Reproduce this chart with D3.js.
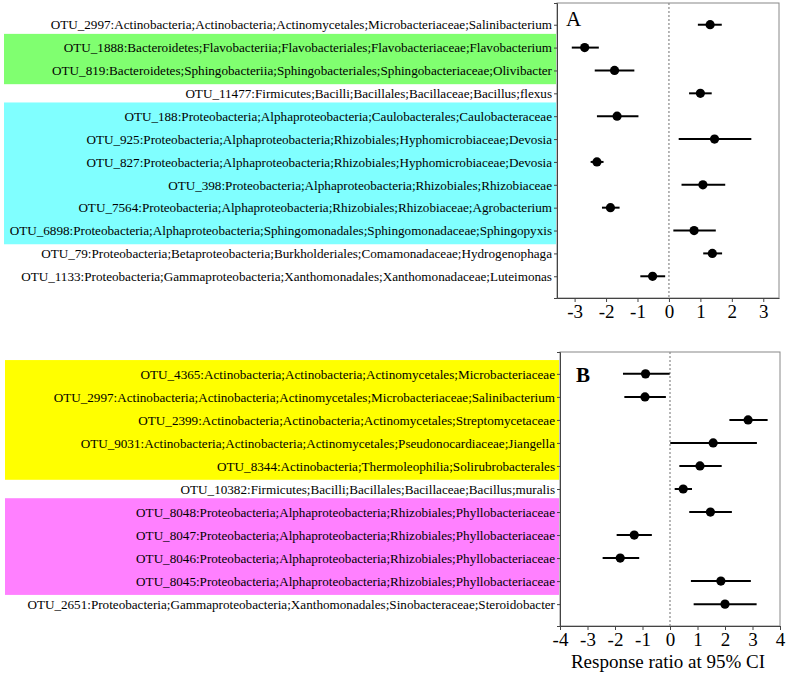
<!DOCTYPE html>
<html>
<head>
<meta charset="utf-8">
<script src="https://cdn.jsdelivr.net/npm/d3@7"></script>
<style>
  body { margin: 0; background: #fff; }
</style>
</head>
<body>
<div id="chart"></div>
<script>
// panel A data
const labelsA = [
  "OTU_2997:Actinobacteria;Actinobacteria;Actinomycetales;Microbacteriaceae;Salinibacterium",
  "OTU_1888:Bacteroidetes;Flavobacteriia;Flavobacteriales;Flavobacteriaceae;Flavobacterium",
  "OTU_819:Bacteroidetes;Sphingobacteriia;Sphingobacteriales;Sphingobacteriaceae;Olivibacter",
  "OTU_11477:Firmicutes;Bacilli;Bacillales;Bacillaceae;Bacillus;flexus",
  "OTU_188:Proteobacteria;Alphaproteobacteria;Caulobacterales;Caulobacteraceae",
  "OTU_925:Proteobacteria;Alphaproteobacteria;Rhizobiales;Hyphomicrobiaceae;Devosia",
  "OTU_827:Proteobacteria;Alphaproteobacteria;Rhizobiales;Hyphomicrobiaceae;Devosia",
  "OTU_398:Proteobacteria;Alphaproteobacteria;Rhizobiales;Rhizobiaceae",
  "OTU_7564:Proteobacteria;Alphaproteobacteria;Rhizobiales;Rhizobiaceae;Agrobacterium",
  "OTU_6898:Proteobacteria;Alphaproteobacteria;Sphingomonadales;Sphingomonadaceae;Sphingopyxis",
  "OTU_79:Proteobacteria;Betaproteobacteria;Burkholderiales;Comamonadaceae;Hydrogenophaga",
  "OTU_1133:Proteobacteria;Gammaproteobacteria;Xanthomonadales;Xanthomonadaceae;Luteimonas"
];
const meanA = [1.31, -2.68, -1.73, 1.00, -1.65, 1.45, -2.29, 1.08, -1.86, 0.80, 1.38, -0.52];
const lowA  = [0.92, -3.09, -2.36, 0.64, -2.29, 0.31, -2.49, 0.40, -2.13, 0.14, 1.09, -0.91];
const highA = [1.68, -2.23, -1.10, 1.36, -0.97, 2.62, -2.08, 1.79, -1.57, 1.49, 1.69, -0.12];
const ticksA = [-3, -2, -1, 0, 1, 2, 3];
const groupsA = [
  { from: 1, to: 2, color: "#80ff70" },
  { from: 4, to: 9, color: "#80ffff" }
];

// panel B data
const labelsB = [
  "OTU_4365:Actinobacteria;Actinobacteria;Actinomycetales;Microbacteriaceae",
  "OTU_2997:Actinobacteria;Actinobacteria;Actinomycetales;Microbacteriaceae;Salinibacterium",
  "OTU_2399:Actinobacteria;Actinobacteria;Actinomycetales;Streptomycetaceae",
  "OTU_9031:Actinobacteria;Actinobacteria;Actinomycetales;Pseudonocardiaceae;Jiangella",
  "OTU_8344:Actinobacteria;Thermoleophilia;Solirubrobacterales",
  "OTU_10382:Firmicutes;Bacilli;Bacillales;Bacillaceae;Bacillus;muralis",
  "OTU_8048:Proteobacteria;Alphaproteobacteria;Rhizobiales;Phyllobacteriaceae",
  "OTU_8047:Proteobacteria;Alphaproteobacteria;Rhizobiales;Phyllobacteriaceae",
  "OTU_8046:Proteobacteria;Alphaproteobacteria;Rhizobiales;Phyllobacteriaceae",
  "OTU_8045:Proteobacteria;Alphaproteobacteria;Rhizobiales;Phyllobacteriaceae",
  "OTU_2651:Proteobacteria;Gammaproteobacteria;Xanthomonadales;Sinobacteraceae;Steroidobacter"
];
const meanB = [-0.89, -0.91, 2.84, 1.57, 1.09, 0.48, 1.47, -1.30, -1.81, 1.85, 2.00];
const lowB  = [-1.71, -1.66, 2.16, 0.01, 0.34, 0.17, 0.70, -1.94, -2.45, 0.76, 0.86];
const highB = [-0.01, -0.15, 3.55, 3.16, 1.88, 0.80, 2.25, -0.66, -1.12, 2.94, 3.15];
const ticksB = [-4, -3, -2, -1, 0, 1, 2, 3, 4];
const groupsB = [
  { from: 0, to: 4, color: "#ffff00" },
  { from: 6, to: 9, color: "#ff80ff" }
];

const FONT = "'Liberation Serif', 'Times New Roman', 'DejaVu Serif', serif";
const width = 787, height = 676;
const svg = d3.select("#chart").append("svg")
  .attr("width", width)
  .attr("height", height)
  .style("font-family", FONT);

function drawPanel(p) {
  const n = p.labels.length;
  const rows = d3.range(n);
  const x = d3.scaleLinear().domain(p.xDomain).range([p.left, p.right]);
  const y = d3.scalePoint().domain(rows).range([p.top, p.bottom]).padding(0.95);
  const step = y.step();
  const g = svg.append("g");

  // highlight boxes behind labels
  g.selectAll("rect.hl")
    .data(p.groups)
    .enter().append("rect")
    .attr("class", "hl")
    .attr("x", p.hlLeft)
    .attr("y", d => y(d.from) - step * 0.6)
    .attr("width", p.left - 1 - p.hlLeft)
    .attr("height", d => y(d.to) - y(d.from) + step * 1.2)
    .attr("fill", d => d.color);

  // frame
  g.append("rect")
    .attr("x", p.left)
    .attr("y", p.top)
    .attr("width", p.right - p.left)
    .attr("height", p.bottom - p.top)
    .attr("fill", "none")
    .attr("stroke", "#888")
    .attr("stroke-width", 1);

  // zero reference
  g.append("line")
    .attr("x1", x(0)).attr("x2", x(0))
    .attr("y1", p.top).attr("y2", p.bottom)
    .attr("stroke", "#888")
    .attr("stroke-width", 1.2)
    .attr("stroke-dasharray", "2,2");

  // axes
  const axisY = d3.axisLeft(y)
    .tickSize(3)
    .tickPadding(2)
    .tickFormat(i => p.labels[i]);
  const ay = g.append("g")
    .attr("transform", `translate(${p.left},0)`)
    .call(axisY);
  ay.attr("font-family", null);
  ay.select(".domain").attr("stroke", "#444");
  ay.selectAll(".tick line").attr("stroke", "#444");
  ay.selectAll(".tick text")
    .style("font-family", FONT)
    .style("font-size", "13.15px")
    .attr("fill", "#000");

  const axisX = d3.axisBottom(x)
    .tickValues(p.ticks)
    .tickSize(4)
    .tickPadding(3)
    .tickFormat(d3.format("d"))
    .tickSizeOuter(0);
  const ax = g.append("g")
    .attr("transform", `translate(0,${p.bottom})`)
    .call(axisX);
  ax.attr("font-family", null);
  ax.select(".domain").attr("stroke", "#444");
  ax.selectAll(".tick line").attr("stroke", "#444");
  ax.selectAll(".tick text")
    .style("font-family", FONT)
    .style("font-size", "19px")
    .attr("fill", "#000")
    .text(d => d < 0 ? "-" + Math.abs(d) : d);

  // error bars
  g.selectAll("line.ci")
    .data(rows)
    .enter().append("line")
    .attr("class", "ci")
    .attr("x1", i => x(p.low[i]))
    .attr("x2", i => x(p.high[i]))
    .attr("y1", i => y(i))
    .attr("y2", i => y(i))
    .attr("stroke", "#000")
    .attr("stroke-width", 2);

  g.selectAll("circle.pt")
    .data(rows)
    .enter().append("circle")
    .attr("class", "pt")
    .attr("cx", i => x(p.mean[i]))
    .attr("cy", i => y(i))
    .attr("r", 4.6)
    .attr("fill", "#000");

  // panel letter
  g.append("text")
    .attr("x", p.letterX)
    .attr("y", p.letterY)
    .style("font-family", FONT)
    .style("font-size", "21px")
    .attr("font-weight", p.letterBold ? "bold" : "normal")
    .text(p.letter);

  return { x, y, g };
}

drawPanel({
  labels: labelsA, mean: meanA, low: lowA, high: highA, ticks: ticksA, groups: groupsA,
  xDomain: [-3.56, 3.5], left: 557, right: 779, top: 3, bottom: 298, hlLeft: 4,
  letter: "A", letterX: 566, letterY: 26, letterBold: false
});

const b = drawPanel({
  labels: labelsB, mean: meanB, low: lowB, high: highB, ticks: ticksB, groups: groupsB,
  xDomain: [-4, 4], left: 560, right: 780, top: 352, bottom: 626, hlLeft: 5,
  letter: "B", letterX: 576, letterY: 382, letterBold: true
});

b.g.append("text")
  .attr("x", 668)
  .attr("y", 668)
  .attr("text-anchor", "middle")
  .style("font-family", FONT)
  .style("font-size", "19px")
  .text("Response ratio at 95% CI");
</script>
</body>
</html>
